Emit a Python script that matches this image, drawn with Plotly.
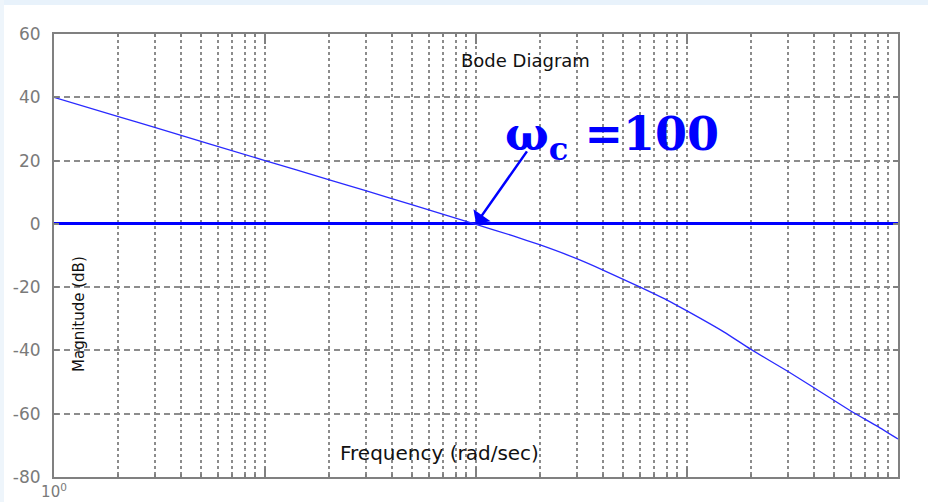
import math
import plotly.graph_objects as go

# Open-loop magnitude response (rad/s, dB)
omega = [1, 2, 3, 10, 20, 30, 50, 100, 150, 200, 300, 400, 600, 800, 1000,
         1500, 2000, 3000, 4000, 6000, 8000, 10000]
mag_db = [40, 34, 30.5, 20, 14, 10.5, 6, -0.2, -3.8, -6.6, -11, -14.6, -20, -24, -27.5,
          -34.2, -39.6, -46.6, -51.8, -59.2, -64, -68]

# Gain crossover
omega_c = 100
crossover_db = 0

# Axis ticks
decades = [1, 10, 100, 1000, 10000]
decade_labels = ["10<sup>0</sup>", "", "", "", ""]
minor_vals = [m * d for d in [1, 10, 100, 1000] for m in range(2, 10)]
db_ticks = [60, 40, 20, 0, -20, -40, -60, -80]
db_labels = [str(v) for v in db_ticks]

W, H = 928, 502
ML, MR, MT, MB = 54, 30, 34, 25
PW, PH = W - ML - MR, H - MT - MB


def px(x, y):
    """Pixel position on the page -> paper coordinates."""
    return (x - ML) / PW, 1 - (y - MT) / PH


GRID = "#8c8c8c"
FRAME = "#808080"
BLUE = "#0000ff"

fig = go.Figure()
fig.add_trace(go.Scatter(
    x=omega, y=mag_db, mode="lines", line_shape="spline",
    line=dict(color="#2a2aff", width=1.3, smoothing=0.4),
    hoverinfo="x+y", showlegend=False,
))


def label(text, x, y, size, family="DejaVu Sans", color="#111111", **kw):
    px_, py_ = px(x, y)
    d = dict(text=text, x=px_, y=py_, xref="paper", yref="paper",
             xanchor="center", yanchor="middle", showarrow=False,
             font=dict(family=family, size=size, color=color))
    d.update(kw)
    return d


annotations = [
    label("Bode Diagram", 525, 61, 18),
    label("Frequency (rad/sec)", 439, 453, 20),
    label("Magnitude (dB)", 79, 314, 15, textangle=-90),
    # crossover callout
    label("<b>ω<sub>c</sub> =%d</b>" % omega_c, 503, 137, 46,
          family="DejaVu Serif", color=BLUE, xanchor="left"),
    dict(text="", x=math.log10(omega_c), y=crossover_db, xref="x", yref="y",
         showarrow=True, arrowhead=1, arrowsize=1.4, arrowwidth=2.5,
         arrowcolor=BLUE, ax=52, ay=-74, standoff=0),
]

# light page border strips
shapes = [
    dict(type="rect", xref="paper", yref="paper", x0=px(0, 0)[0], x1=px(W, 0)[0],
         y0=px(0, 5)[1], y1=px(0, 0)[1], fillcolor="#e8f2fb", line_width=0, layer="below"),
    dict(type="rect", xref="paper", yref="paper", x0=px(0, 0)[0], x1=px(4, 0)[0],
         y0=px(0, H)[1], y1=px(0, 0)[1], fillcolor="#eef5fb", line_width=0, layer="below"),
]

fig.update_layout(
    width=W, height=H,
    margin=dict(l=ML, r=MR, t=MT, b=MB, autoexpand=False),
    paper_bgcolor="white", plot_bgcolor="white",
    annotations=annotations, shapes=shapes,
    xaxis=dict(
        type="log", range=[0, 4], automargin=False,
        tickmode="array", tickvals=decades, ticktext=decade_labels,
        ticks="inside", ticklen=10, tickwidth=1.5, tickcolor=FRAME,
        tickfont=dict(family="DejaVu Sans", size=15, color="#7a7a7a"),
        showgrid=True, gridcolor=GRID, gridwidth=1.5, griddash="3px,3px",
        minor=dict(tickmode="array", tickvals=minor_vals, showgrid=True,
                   gridcolor=GRID, gridwidth=1.5, griddash="3px,3px",
                   ticks="inside", ticklen=3, tickcolor=FRAME),
        showline=True, linecolor=FRAME, linewidth=2, mirror="ticks",
        zeroline=False, ticklabelstandoff=0,
    ),
    yaxis=dict(
        range=[-80, 60], automargin=False,
        tickmode="array", tickvals=db_ticks, ticktext=db_labels,
        ticks="inside", ticklen=5, tickwidth=1.5, tickcolor=FRAME,
        tickfont=dict(family="DejaVu Sans", size=17, color="#7a7a7a"),
        showgrid=True, gridcolor=GRID, gridwidth=1.5, griddash="6px,4px",
        showline=True, linecolor=FRAME, linewidth=2, mirror="ticks",
        zeroline=True, zerolinecolor=BLUE, zerolinewidth=3,
        ticklabelstandoff=8,
    ),
)

fig.write_html("out.html")
